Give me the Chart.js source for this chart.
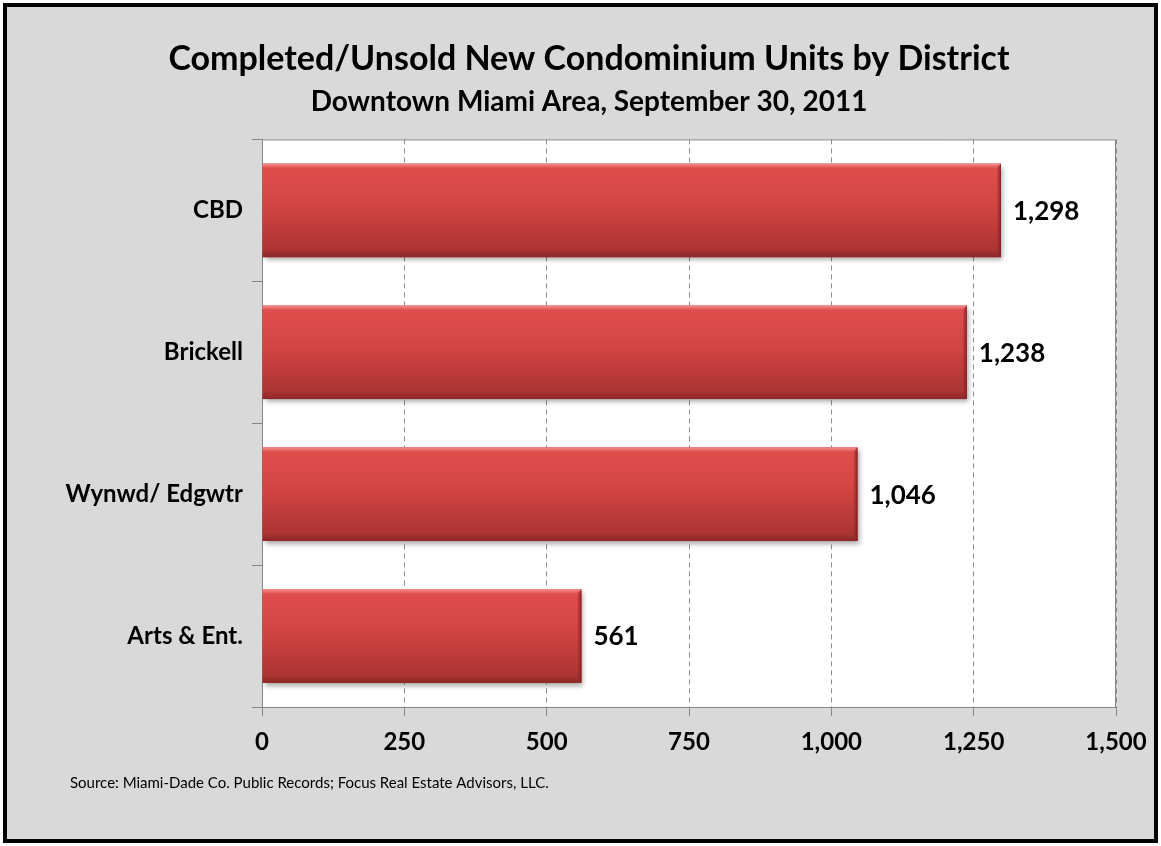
<!DOCTYPE html>
<html>
<head>
<meta charset="utf-8">
<script src="https://cdn.jsdelivr.net/npm/chart.js@4.4.1/dist/chart.umd.min.js"></script>
<style>
  html, body { margin: 0; padding: 0; background: #fff; }
  canvas { display: block; }
</style>
</head>
<body>
<canvas id="myChart" width="1161" height="846"></canvas>
<script>
const districts = ["CBD", "Brickell", "Wynwd/ Edgwtr", "Arts & Ent."];
const unsoldUnits = [1298, 1238, 1046, 561];
const axisMin = 0;
const axisMax = 1500;
const axisStep = 250;

const titleText = "Completed/Unsold New Condominium Units by District";
const subtitleText = "Downtown Miami Area, September 30, 2011";
const sourceText = "Source: Miami-Dade Co. Public Records; Focus Real Estate Advisors, LLC.";

const fontFamily = "Lato, 'Open Sans', sans-serif";

function fmt(v) {
  return v.toLocaleString("en-US");
}

// grey panel, black frame, white plot area
const backgroundPlugin = {
  id: "background",
  beforeDraw(chart) {
    const { ctx, width, height, chartArea } = chart;
    ctx.save();
    ctx.fillStyle = "#ffffff";
    ctx.fillRect(0, 0, width, height);
    ctx.fillStyle = "#d9d9d9";
    ctx.fillRect(3, 3, width - 6, height - 6);
    ctx.lineWidth = 4;
    ctx.strokeStyle = "#000000";
    ctx.strokeRect(5, 5, width - 10, height - 10);
    ctx.fillStyle = "#ffffff";
    ctx.fillRect(chartArea.left, chartArea.top,
      chartArea.right - chartArea.left, chartArea.bottom - chartArea.top);
    ctx.restore();
  },
  afterDraw(chart) {
    const { ctx, chartArea } = chart;
    ctx.save();
    ctx.strokeStyle = "#868686";
    ctx.lineWidth = 1;
    ctx.beginPath();
    ctx.moveTo(chartArea.left, chartArea.top + 0.5);
    ctx.lineTo(chartArea.right - 0.5, chartArea.top + 0.5);
    ctx.lineTo(chartArea.right - 0.5, chartArea.bottom);
    ctx.stroke();
    // source note
    ctx.fillStyle = "#000000";
    ctx.font = "15px " + fontFamily;
    ctx.textAlign = "left";
    ctx.textBaseline = "middle";
    ctx.fillText(sourceText, 70, 783);
    ctx.restore();
  }
};

// shadow under bars, bevel on top, value labels
const barLookPlugin = {
  id: "barLook",
  beforeDatasetsDraw(chart) {
    const ctx = chart.ctx;
    ctx.save();
    ctx.shadowColor = "rgba(0,0,0,0.35)";
    ctx.shadowBlur = 5;
    ctx.shadowOffsetX = 2;
    ctx.shadowOffsetY = 3;
  },
  afterDatasetsDraw(chart) {
    const ctx = chart.ctx;
    ctx.restore();
    const meta = chart.getDatasetMeta(0);
    ctx.save();
    meta.data.forEach((bar, i) => {
      const top = bar.y - bar.height / 2;
      const bottom = bar.y + bar.height / 2;
      const left = bar.base;
      const right = bar.x;
      const h = bottom - top;
      const g = ctx.createLinearGradient(0, top, 0, bottom);
      g.addColorStop(0, "#f29090");
      g.addColorStop(0.05, "#e04e4c");
      g.addColorStop(0.45, "#d24442");
      g.addColorStop(0.92, "#ab3433");
      g.addColorStop(1, "#8a2727");
      ctx.fillStyle = g;
      ctx.fillRect(left, top, right - left, h);
      // right end bevel
      const e = 4;
      const g2 = ctx.createLinearGradient(right - e, 0, right, 0);
      g2.addColorStop(0, "rgba(150,40,40,0.2)");
      g2.addColorStop(1, "rgba(120,30,30,0.9)");
      ctx.fillStyle = g2;
      ctx.beginPath();
      ctx.moveTo(right - e, top + e);
      ctx.lineTo(right, top);
      ctx.lineTo(right, bottom);
      ctx.lineTo(right - e, bottom - e);
      ctx.closePath();
      ctx.fill();
      // value label
      ctx.fillStyle = "#000000";
      ctx.font = "bold 26px " + fontFamily;
      ctx.textAlign = "left";
      ctx.textBaseline = "middle";
      ctx.fillText(fmt(unsoldUnits[i]), right + 12, bar.y + 1);
    });
    ctx.restore();
  }
};

const data = {
  labels: districts,
  datasets: [{
    data: unsoldUnits,
    backgroundColor: "#cf4240",
    borderWidth: 0,
    barPercentage: 0.66,
    categoryPercentage: 1
  }]
};

const config = {
  type: "bar",
  data: data,
  plugins: [backgroundPlugin, barLookPlugin],
  options: {
    indexAxis: "y",
    responsive: false,
    animation: false,
    layout: {
      padding: { top: 7, right: 45, bottom: 0, left: 62 }
    },
    plugins: {
      legend: { display: false },
      tooltip: { enabled: false },
      title: {
        display: true,
        text: titleText,
        color: "#000000",
        font: { family: fontFamily, size: 34, weight: "bold", lineHeight: 1.2 },
        padding: { top: 32, bottom: 0 }
      },
      subtitle: {
        display: true,
        text: subtitleText,
        color: "#000000",
        font: { family: fontFamily, size: 28, weight: "bold", lineHeight: 1.2 },
        padding: { top: 5, bottom: 21 }
      }
    },
    scales: {
      x: {
        min: axisMin,
        max: axisMax,
        ticks: {
          stepSize: axisStep,
          color: "#000000",
          padding: 12,
          font: { family: fontFamily, size: 24, weight: "bold" },
          callback: v => fmt(v)
        },
        grid: {
          color: "#8c8c8c",
          tickColor: "#868686",
          tickLength: 9,
          lineWidth: 1
        },
        border: { color: "#868686", dash: [5, 4] },
        afterFit(scale) { scale.height = 139; }
      },
      y: {
        ticks: {
          color: "#000000",
          padding: 9,
          font: { family: fontFamily, size: 24, weight: "bold" }
        },
        grid: {
          drawOnChartArea: false,
          tickLength: 10,
          color: "#868686"
        },
        border: { color: "#868686" },
        afterFit(scale) { scale.width = 200; }
      }
    }
  }
};

const myChart = new Chart(document.getElementById("myChart"), config);
</script>
</body>
</html>
